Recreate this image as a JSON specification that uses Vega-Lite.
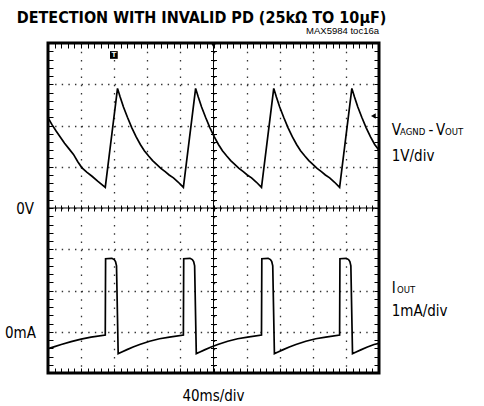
{
  "$schema": "https://vega.github.io/schema/vega-lite/v6.json",
  "width": 331,
  "height": 330,
  "autosize": {"type": "none"},
  "padding": {"left": 48, "top": 43, "right": 105, "bottom": 33},
  "background": "white",
  "config": {"view": {"stroke": "black", "strokeWidth": 3}},
  "datasets": {
    "traces": [
      {"series": "V", "time": 0, "level": 6.19}, {"series": "V", "time": 0.12, "level": 6.02}, {"series": "V", "time": 0.25, "level": 5.86}, {"series": "V", "time": 0.37, "level": 5.72}, {"series": "V", "time": 0.5, "level": 5.57}, {"series": "V", "time": 0.63, "level": 5.44}, {"series": "V", "time": 0.77, "level": 5.3}, {"series": "V", "time": 0.9, "level": 5.12}, {"series": "V", "time": 1.02, "level": 4.98}, {"series": "V", "time": 1.17, "level": 4.87}, {"series": "V", "time": 1.33, "level": 4.77}, {"series": "V", "time": 1.5, "level": 4.65}, {"series": "V", "time": 1.73, "level": 4.5},
      {"series": "V", "time": 2.1, "level": 6.9}, {"series": "V", "time": 2.18, "level": 6.69}, {"series": "V", "time": 2.28, "level": 6.45}, {"series": "V", "time": 2.4, "level": 6.2}, {"series": "V", "time": 2.53, "level": 5.95}, {"series": "V", "time": 2.66, "level": 5.73}, {"series": "V", "time": 2.79, "level": 5.54}, {"series": "V", "time": 2.91, "level": 5.39}, {"series": "V", "time": 3.04, "level": 5.26}, {"series": "V", "time": 3.16, "level": 5.15}, {"series": "V", "time": 3.29, "level": 5.05}, {"series": "V", "time": 3.41, "level": 4.96}, {"series": "V", "time": 3.54, "level": 4.88}, {"series": "V", "time": 3.66, "level": 4.8}, {"series": "V", "time": 3.79, "level": 4.73}, {"series": "V", "time": 3.93, "level": 4.63}, {"series": "V", "time": 4.09, "level": 4.5},
      {"series": "V", "time": 4.46, "level": 6.9}, {"series": "V", "time": 4.54, "level": 6.69}, {"series": "V", "time": 4.64, "level": 6.45}, {"series": "V", "time": 4.76, "level": 6.2}, {"series": "V", "time": 4.89, "level": 5.95}, {"series": "V", "time": 5.02, "level": 5.73}, {"series": "V", "time": 5.15, "level": 5.54}, {"series": "V", "time": 5.27, "level": 5.39}, {"series": "V", "time": 5.4, "level": 5.26}, {"series": "V", "time": 5.52, "level": 5.15}, {"series": "V", "time": 5.65, "level": 5.05}, {"series": "V", "time": 5.77, "level": 4.96}, {"series": "V", "time": 5.9, "level": 4.88}, {"series": "V", "time": 6.02, "level": 4.8}, {"series": "V", "time": 6.15, "level": 4.73}, {"series": "V", "time": 6.29, "level": 4.63}, {"series": "V", "time": 6.45, "level": 4.5},
      {"series": "V", "time": 6.82, "level": 6.9}, {"series": "V", "time": 6.9, "level": 6.69}, {"series": "V", "time": 7.0, "level": 6.45}, {"series": "V", "time": 7.12, "level": 6.2}, {"series": "V", "time": 7.25, "level": 5.95}, {"series": "V", "time": 7.38, "level": 5.73}, {"series": "V", "time": 7.51, "level": 5.54}, {"series": "V", "time": 7.63, "level": 5.39}, {"series": "V", "time": 7.76, "level": 5.26}, {"series": "V", "time": 7.88, "level": 5.15}, {"series": "V", "time": 8.01, "level": 5.05}, {"series": "V", "time": 8.13, "level": 4.96}, {"series": "V", "time": 8.26, "level": 4.88}, {"series": "V", "time": 8.38, "level": 4.8}, {"series": "V", "time": 8.51, "level": 4.73}, {"series": "V", "time": 8.65, "level": 4.63}, {"series": "V", "time": 8.81, "level": 4.5},
      {"series": "V", "time": 9.18, "level": 6.9}, {"series": "V", "time": 9.26, "level": 6.69}, {"series": "V", "time": 9.36, "level": 6.45}, {"series": "V", "time": 9.48, "level": 6.2}, {"series": "V", "time": 9.61, "level": 5.95}, {"series": "V", "time": 9.74, "level": 5.73}, {"series": "V", "time": 9.87, "level": 5.54}, {"series": "V", "time": 10.0, "level": 5.4},
      {"series": "I", "time": 0, "level": 0.59}, {"series": "I", "time": 0.2, "level": 0.64}, {"series": "I", "time": 0.4, "level": 0.69}, {"series": "I", "time": 0.7, "level": 0.76}, {"series": "I", "time": 1.0, "level": 0.82}, {"series": "I", "time": 1.3, "level": 0.87}, {"series": "I", "time": 1.73, "level": 0.92},
      {"series": "I", "time": 1.74, "level": 2.77}, {"series": "I", "time": 1.93, "level": 2.78}, {"series": "I", "time": 2.0, "level": 2.75}, {"series": "I", "time": 2.04, "level": 2.7}, {"series": "I", "time": 2.07, "level": 2.6}, {"series": "I", "time": 2.12, "level": 0.47}, {"series": "I", "time": 2.23, "level": 0.51}, {"series": "I", "time": 2.37, "level": 0.56}, {"series": "I", "time": 2.57, "level": 0.63}, {"series": "I", "time": 2.77, "level": 0.69}, {"series": "I", "time": 3.07, "level": 0.77}, {"series": "I", "time": 3.37, "level": 0.83}, {"series": "I", "time": 3.67, "level": 0.87}, {"series": "I", "time": 4.09, "level": 0.92},
      {"series": "I", "time": 4.1, "level": 2.77}, {"series": "I", "time": 4.29, "level": 2.78}, {"series": "I", "time": 4.36, "level": 2.75}, {"series": "I", "time": 4.4, "level": 2.7}, {"series": "I", "time": 4.43, "level": 2.6}, {"series": "I", "time": 4.48, "level": 0.47}, {"series": "I", "time": 4.59, "level": 0.51}, {"series": "I", "time": 4.73, "level": 0.56}, {"series": "I", "time": 4.93, "level": 0.63}, {"series": "I", "time": 5.13, "level": 0.69}, {"series": "I", "time": 5.43, "level": 0.77}, {"series": "I", "time": 5.73, "level": 0.83}, {"series": "I", "time": 6.03, "level": 0.87}, {"series": "I", "time": 6.45, "level": 0.92},
      {"series": "I", "time": 6.46, "level": 2.77}, {"series": "I", "time": 6.65, "level": 2.78}, {"series": "I", "time": 6.72, "level": 2.75}, {"series": "I", "time": 6.76, "level": 2.7}, {"series": "I", "time": 6.79, "level": 2.6}, {"series": "I", "time": 6.84, "level": 0.47}, {"series": "I", "time": 6.95, "level": 0.51}, {"series": "I", "time": 7.09, "level": 0.56}, {"series": "I", "time": 7.29, "level": 0.63}, {"series": "I", "time": 7.49, "level": 0.69}, {"series": "I", "time": 7.79, "level": 0.77}, {"series": "I", "time": 8.09, "level": 0.83}, {"series": "I", "time": 8.39, "level": 0.87}, {"series": "I", "time": 8.81, "level": 0.92},
      {"series": "I", "time": 8.82, "level": 2.77}, {"series": "I", "time": 9.01, "level": 2.78}, {"series": "I", "time": 9.08, "level": 2.75}, {"series": "I", "time": 9.12, "level": 2.7}, {"series": "I", "time": 9.15, "level": 2.6}, {"series": "I", "time": 9.2, "level": 0.47}, {"series": "I", "time": 9.31, "level": 0.51}, {"series": "I", "time": 9.45, "level": 0.56}, {"series": "I", "time": 9.65, "level": 0.63}, {"series": "I", "time": 9.85, "level": 0.69}, {"series": "I", "time": 10.0, "level": 0.72}
    ]
  },
  "resolve": {"axis": {"x": "independent", "y": "independent"}},
  "layer": [
    {
      "data": {"values": [{}]},
      "mark": {"type": "point", "shape": "square", "size": 60, "filled": true, "color": "black", "opacity": 1},
      "encoding": {
        "x": {"datum": 1.99, "type": "quantitative", "scale": {"domain": [0, 10], "nice": false, "zero": false},
              "axis": {"orient": "bottom", "values": [1, 2, 3, 4, 5, 6, 7, 8, 9], "grid": true, "gridDash": [1.4, 6.85], "gridColor": "#333", "gridWidth": 1.3, "ticks": false, "labels": false, "domain": false, "title": null}},
        "y": {"datum": 7.71, "type": "quantitative", "scale": {"domain": [0, 8], "nice": false, "zero": false},
              "axis": {"orient": "left", "values": [1, 2, 3, 4, 5, 6, 7], "grid": true, "gridDash": [1.4, 5.22], "gridColor": "#333", "gridWidth": 1.3, "ticks": false, "labels": false, "domain": false, "title": null}}
      }
    },
    {
      "data": {"values": [{}]},
      "mark": {"type": "rule", "color": "black", "strokeWidth": 1},
      "encoding": {
        "x": {"datum": 5, "type": "quantitative",
              "axis": {"orient": "top", "tickCount": 50, "tickSize": -5, "tickColor": "black", "tickWidth": 1, "labels": false, "domain": false, "grid": false, "title": null}}
      }
    },
    {
      "data": {"values": [{}]},
      "mark": {"type": "rule", "color": "black", "strokeWidth": 1},
      "encoding": {
        "y": {"datum": 4, "type": "quantitative",
              "axis": {"orient": "right", "tickCount": 40, "tickSize": -5, "tickColor": "black", "tickWidth": 1, "labels": false, "domain": false, "grid": false, "title": null}}
      }
    },
    {
      "data": {"name": "traces"},
      "mark": {"type": "line", "color": "black", "strokeWidth": 1.7, "clip": true},
      "encoding": {
        "x": {"field": "time", "type": "quantitative",
              "axis": {"orient": "bottom", "tickCount": 50, "tickSize": -5, "tickColor": "black", "tickWidth": 1, "labels": false, "domain": false, "grid": false, "title": null}},
        "y": {"field": "level", "type": "quantitative",
              "axis": {"orient": "left", "tickCount": 40, "tickSize": -5, "tickColor": "black", "tickWidth": 1, "labels": false, "domain": false, "grid": false, "title": null}},
        "detail": {"field": "series"}
      }
    },
    {
      "data": {"values": [{}]},
      "mark": {"type": "point", "shape": "triangle-down", "size": 30, "filled": true, "color": "black", "opacity": 1},
      "encoding": {
        "x": {"datum": 5, "type": "quantitative",
              "axis": {"orient": "bottom", "offset": -168, "tickCount": 50, "tickSize": 6, "tickColor": "black", "tickWidth": 1, "labels": false, "domain": false, "grid": false, "title": null}},
        "y": {"datum": 7.95, "type": "quantitative",
              "axis": {"orient": "left", "offset": -168.5, "tickCount": 40, "tickSize": 6, "tickColor": "black", "tickWidth": 1, "labels": false, "domain": false, "grid": false, "title": null}}
      }
    },
    {
      "data": {"values": [{}]},
      "mark": {"type": "point", "shape": "triangle-left", "size": 30, "filled": true, "color": "black", "opacity": 1},
      "encoding": {"x": {"datum": 9.83, "type": "quantitative", "axis": null}, "y": {"datum": 6.23, "type": "quantitative", "axis": null}}
    },
    {
      "data": {"values": [{}]},
      "mark": {"type": "text", "text": "T", "color": "white", "font": "Liberation Sans", "fontWeight": "bold", "fontSize": 8, "baseline": "middle", "align": "center"},
      "encoding": {"x": {"datum": 1.99, "type": "quantitative", "axis": null}, "y": {"datum": 7.71, "type": "quantitative", "axis": null}}
    },
    {
      "data": {"values": [{}]},
      "mark": {"type": "text", "text": "DETECTION WITH INVALID PD (25kΩ TO 10µF)", "color": "black", "font": "DejaVu Sans Condensed, Roboto, sans-serif", "fontWeight": "bold", "fontSize": 16, "baseline": "alphabetic", "align": "left", "dx": -31.3, "dy": -20.5},
      "encoding": {"x": {"datum": 0, "type": "quantitative", "axis": null}, "y": {"datum": 8, "type": "quantitative", "axis": null}}
    },
    {
      "data": {"values": [{}]},
      "mark": {"type": "text", "text": "MAX5984 toc16a", "color": "black", "font": "Liberation Sans", "fontSize": 9.5, "baseline": "alphabetic", "align": "right", "dy": -8.7},
      "encoding": {"x": {"datum": 10, "type": "quantitative", "axis": null}, "y": {"datum": 8, "type": "quantitative", "axis": null}}
    },
    {
      "data": {"values": [{}]},
      "mark": {"type": "text", "text": "0V", "color": "black", "font": "DejaVu Sans Condensed, Roboto, sans-serif", "fontSize": 15, "baseline": "middle", "align": "right", "dx": -14, "dy": 1},
      "encoding": {"x": {"datum": 0, "type": "quantitative", "axis": null}, "y": {"datum": 4, "type": "quantitative", "axis": null}}
    },
    {
      "data": {"values": [{}]},
      "mark": {"type": "text", "text": "0mA", "color": "black", "font": "DejaVu Sans Condensed, Roboto, sans-serif", "fontSize": 15, "baseline": "middle", "align": "right", "dx": -12, "dy": 1},
      "encoding": {"x": {"datum": 0, "type": "quantitative", "axis": null}, "y": {"datum": 1, "type": "quantitative", "axis": null}}
    },
    {
      "data": {"values": [{}]},
      "mark": {"type": "text", "text": "40ms/div", "color": "black", "font": "DejaVu Sans Condensed, Roboto, sans-serif", "fontSize": 15, "baseline": "alphabetic", "align": "center", "dy": 28},
      "encoding": {"x": {"datum": 5, "type": "quantitative", "axis": null}, "y": {"datum": 0, "type": "quantitative", "axis": null}}
    },
    {
      "data": {"values": [{}]},
      "mark": {"type": "text", "text": "V", "color": "black", "font": "DejaVu Sans Condensed, Roboto, sans-serif", "fontSize": 15, "baseline": "alphabetic", "align": "left", "dx": 12.7},
      "encoding": {"x": {"datum": 10, "type": "quantitative", "axis": null}, "y": {"datum": 5.77, "type": "quantitative", "axis": null}}
    },
    {
      "data": {"values": [{}]},
      "mark": {"type": "text", "text": "AGND", "color": "black", "font": "DejaVu Sans Condensed, Roboto, sans-serif", "fontSize": 9.5, "baseline": "alphabetic", "align": "left", "dx": 21},
      "encoding": {"x": {"datum": 10, "type": "quantitative", "axis": null}, "y": {"datum": 5.77, "type": "quantitative", "axis": null}}
    },
    {
      "data": {"values": [{}]},
      "mark": {"type": "text", "text": "-", "color": "black", "font": "DejaVu Sans Condensed, Roboto, sans-serif", "fontSize": 15, "baseline": "alphabetic", "align": "center", "dx": 52},
      "encoding": {"x": {"datum": 10, "type": "quantitative", "axis": null}, "y": {"datum": 5.77, "type": "quantitative", "axis": null}}
    },
    {
      "data": {"values": [{}]},
      "mark": {"type": "text", "text": "V", "color": "black", "font": "DejaVu Sans Condensed, Roboto, sans-serif", "fontSize": 15, "baseline": "alphabetic", "align": "left", "dx": 57},
      "encoding": {"x": {"datum": 10, "type": "quantitative", "axis": null}, "y": {"datum": 5.77, "type": "quantitative", "axis": null}}
    },
    {
      "data": {"values": [{}]},
      "mark": {"type": "text", "text": "OUT", "color": "black", "font": "DejaVu Sans Condensed, Roboto, sans-serif", "fontSize": 9.5, "baseline": "alphabetic", "align": "left", "dx": 66},
      "encoding": {"x": {"datum": 10, "type": "quantitative", "axis": null}, "y": {"datum": 5.77, "type": "quantitative", "axis": null}}
    },
    {
      "data": {"values": [{}]},
      "mark": {"type": "text", "text": "1V/div", "color": "black", "font": "DejaVu Sans Condensed, Roboto, sans-serif", "fontSize": 15, "baseline": "alphabetic", "align": "left", "dx": 12.7},
      "encoding": {"x": {"datum": 10, "type": "quantitative", "axis": null}, "y": {"datum": 5.13, "type": "quantitative", "axis": null}}
    },
    {
      "data": {"values": [{}]},
      "mark": {"type": "text", "text": "I", "color": "black", "font": "DejaVu Sans Condensed, Roboto, sans-serif", "fontSize": 15, "baseline": "alphabetic", "align": "left", "dx": 12.7},
      "encoding": {"x": {"datum": 10, "type": "quantitative", "axis": null}, "y": {"datum": 1.94, "type": "quantitative", "axis": null}}
    },
    {
      "data": {"values": [{}]},
      "mark": {"type": "text", "text": "OUT", "color": "black", "font": "DejaVu Sans Condensed, Roboto, sans-serif", "fontSize": 9.5, "baseline": "alphabetic", "align": "left", "dx": 18},
      "encoding": {"x": {"datum": 10, "type": "quantitative", "axis": null}, "y": {"datum": 1.94, "type": "quantitative", "axis": null}}
    },
    {
      "data": {"values": [{}]},
      "mark": {"type": "text", "text": "1mA/div", "color": "black", "font": "DejaVu Sans Condensed, Roboto, sans-serif", "fontSize": 15, "baseline": "alphabetic", "align": "left", "dx": 12.7},
      "encoding": {"x": {"datum": 10, "type": "quantitative", "axis": null}, "y": {"datum": 1.37, "type": "quantitative", "axis": null}}
    }
  ]
}
